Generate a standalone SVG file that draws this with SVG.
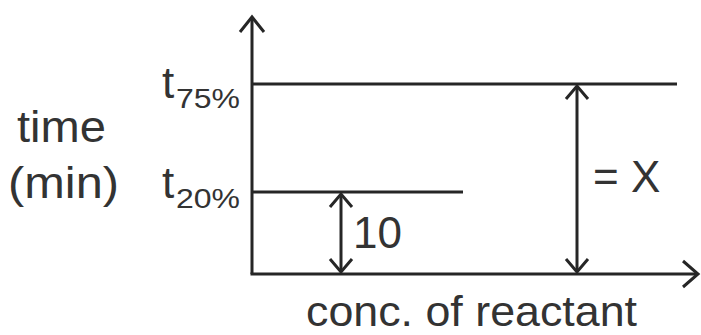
<svg xmlns="http://www.w3.org/2000/svg" width="701" height="335" viewBox="0 0 701 335">
  <style>
    .ln { stroke: #262626; stroke-width: 3; fill: none; }
    .ah { stroke: #262626; stroke-width: 3; fill: none; stroke-linejoin: miter; stroke-linecap: butt; }
    text { font-family: "Liberation Sans", Arial, sans-serif; fill: #333; }
    .big { font-size: 44px; }
    .sub { font-size: 28px; }
  </style>
  <rect width="701" height="335" fill="#fff"/>
  <g id="axes">
    <line class="ln" x1="252" y1="17" x2="252" y2="274"/>
    <line class="ln" x1="250.5" y1="274" x2="698" y2="274"/>
    <polyline class="ah" points="240,32 252,17 264,32"/>
    <polyline class="ah" points="683,261 698,274 683,287"/>
  </g>
  <g id="levels">
    <line class="ln" x1="252" y1="84" x2="677" y2="84"/>
    <line class="ln" x1="252" y1="192" x2="463" y2="192"/>
  </g>
  <g id="connectors">
    <line class="ln" x1="341" y1="194" x2="341" y2="272"/>
    <polyline class="ah" points="330,207 341,194 352,207"/>
    <polyline class="ah" points="330,259 341,272 352,259"/>
    <line class="ln" x1="577" y1="86" x2="577" y2="272"/>
    <polyline class="ah" points="566,99 577,86 588,99"/>
    <polyline class="ah" points="566,259 577,272 588,259"/>
  </g>
  <g id="labels">
    <text class="big" x="17" y="142" textLength="89" lengthAdjust="spacingAndGlyphs">time</text>
    <text class="big" x="8" y="198" textLength="111" lengthAdjust="spacingAndGlyphs">(min)</text>
    <text class="big" x="162" y="98">t</text>
    <text class="sub" x="176" y="108" textLength="64" lengthAdjust="spacingAndGlyphs">75%</text>
    <text class="big" x="162" y="198">t</text>
    <text class="sub" x="176" y="208" textLength="64" lengthAdjust="spacingAndGlyphs">20%</text>
    <text class="big" x="353" y="248">10</text>
    <text class="big" x="593" y="192">= X</text>
    <text x="306" y="326" font-size="42" textLength="331" lengthAdjust="spacingAndGlyphs">conc. of reactant</text>
  </g>
</svg>
